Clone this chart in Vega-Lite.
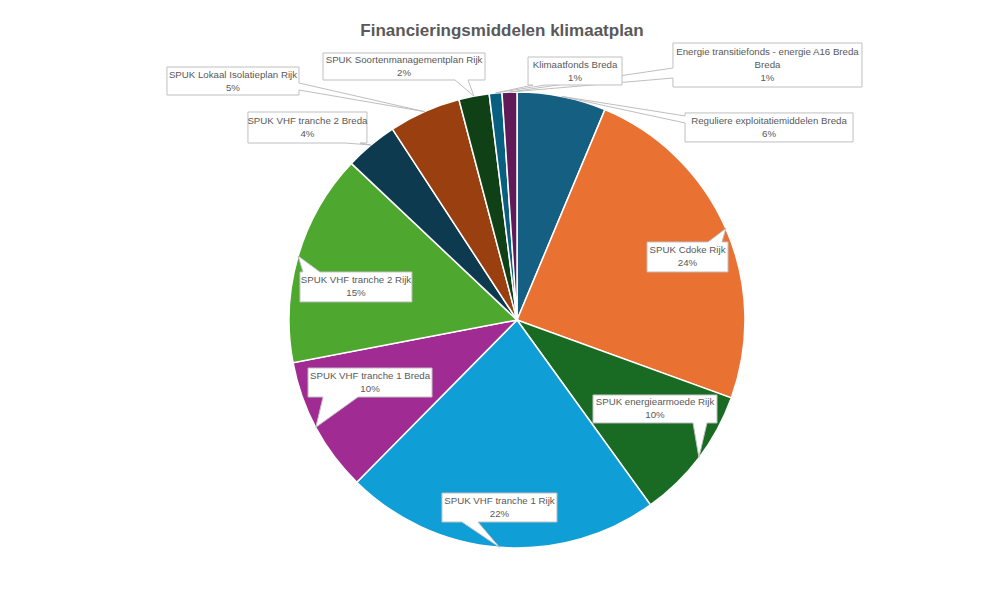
{
  "$schema": "https://vega.github.io/schema/vega-lite/v6.json",
  "autosize": "none",
  "width": 934,
  "height": 538,
  "padding": {"left": 50, "top": 51, "right": 0, "bottom": 0},
  "background": "white",
  "title": {"text": "Financieringsmiddelen klimaatplan", "fontSize": 17, "font": "Liberation Sans", "fontWeight": "bold", "color": "#595959", "dx": -15, "offset": 1},
  "config": {"view": {"stroke": null}},
  "data": {"values": [
    {"category": "Reguliere exploitatiemiddelen Breda", "value": 6.3},
    {"category": "SPUK Cdoke Rijk", "value": 24.25},
    {"category": "SPUK energiearmoede Rijk", "value": 9.5},
    {"category": "SPUK VHF tranche 1  Rijk", "value": 22.35},
    {"category": "SPUK VHF tranche 1  Breda", "value": 9.6},
    {"category": "SPUK VHF tranche 2 Rijk", "value": 15.05},
    {"category": "SPUK VHF tranche 2 Breda", "value": 3.75},
    {"category": "SPUK Lokaal Isolatieplan Rijk", "value": 5.1},
    {"category": "SPUK Soortenmanagementplan Rijk", "value": 2.15},
    {"category": "Klimaatfonds Breda", "value": 0.9},
    {"category": "Energie transitiefonds - energie A16 Breda Breda", "value": 1.05}
  ]},
  "transform": [
    {"window": [{"op": "sum", "field": "value", "as": "cum"}], "frame": [null, 0]},
    {"calculate": "datum.cum - datum.value", "as": "start"},
    {"calculate": "(datum.cum - datum.value / 2) / 100 * 2 * PI", "as": "mid"},
    {"calculate": "sin(datum.mid)", "as": "ux"},
    {"calculate": "cos(datum.mid)", "as": "uy"},
    {"calculate": "length(datum.category) > 45 ? [substring(datum.category, 0, 42), substring(datum.category, 43), format(datum.value / 100, '.0%')] : [datum.category, format(datum.value / 100, '.0%')]", "as": "lines"}
  ],
  "layer": [
    {
      "mark": {"type": "arc", "radius": 228, "stroke": "white", "strokeWidth": 1.5},
      "encoding": {
        "theta": {"field": "start", "type": "quantitative", "scale": {"domain": [0, 100]}},
        "theta2": {"field": "cum"},
        "color": {"field": "category", "type": "nominal", "legend": null,
          "scale": {
            "domain": ["Reguliere exploitatiemiddelen Breda", "SPUK Cdoke Rijk", "SPUK energiearmoede Rijk", "SPUK VHF tranche 1  Rijk", "SPUK VHF tranche 1  Breda", "SPUK VHF tranche 2 Rijk", "SPUK VHF tranche 2 Breda", "SPUK Lokaal Isolatieplan Rijk", "SPUK Soortenmanagementplan Rijk", "Klimaatfonds Breda", "Energie transitiefonds - energie A16 Breda Breda"],
            "range": ["#156082", "#E97132", "#196B24", "#0F9ED5", "#A02B93", "#4EA72E", "#0D3A4E", "#9A4010", "#0F4016", "#095F80", "#601A58"]
          }
        }
      }
    },
    {
      "encoding": {
        "x": {"field": "ux", "type": "quantitative", "scale": {"domain": [-2.04825, 2.04825], "nice": false, "zero": false}, "axis": null},
        "y": {"field": "uy", "type": "quantitative", "scale": {"domain": [-1.17982, 1.17982], "nice": false, "zero": false}, "axis": null},
        "text": {"field": "lines"}
      },
      "layer": [
        {
          "transform": [{"filter": {"field": "category", "equal": "Energie transitiefonds - energie A16 Breda Breda"}}],
          "layer": [
            {"mark": {"type": "point", "shape": "M1.635,-0.491H3.525V-0.051H1.635V-0.141L0,0L1.635,-0.241Z", "size": 40000, "filled": true, "fill": "white", "stroke": "#bfbfbf", "strokeWidth": 1, "opacity": 1}},
            {"mark": {"type": "text", "dx": 258, "dy": -40.1, "fontSize": 9.7, "font": "Liberation Sans", "fill": "#595959", "lineHeight": 13, "baseline": "middle", "align": "center"}}
          ]
        },
        {
          "transform": [{"filter": {"field": "category", "equal": "Klimaatfonds Breda"}}],
          "layer": [
            {"mark": {"type": "point", "shape": "M0.325,-0.36H1.265V-0.08H0.495L0,0L0.375,-0.08H0.325Z", "size": 40000, "filled": true, "fill": "white", "stroke": "#bfbfbf", "strokeWidth": 1, "opacity": 1}},
            {"mark": {"type": "text", "dx": 79.5, "dy": -28.5, "fontSize": 9.7, "font": "Liberation Sans", "fill": "#595959", "lineHeight": 13, "baseline": "middle", "align": "center"}}
          ]
        },
        {
          "transform": [{"filter": {"field": "category", "equal": "SPUK Soortenmanagementplan Rijk"}}],
          "layer": [
            {"mark": {"type": "point", "shape": "M-1.509,-0.431H0.111V-0.161H-0.059L0,0L-0.189,-0.161H-1.509Z", "size": 40000, "filled": true, "fill": "white", "stroke": "#bfbfbf", "strokeWidth": 1, "opacity": 1}},
            {"mark": {"type": "text", "dx": -69.9, "dy": -36.1, "fontSize": 9.7, "font": "Liberation Sans", "fill": "#595959", "lineHeight": 13, "baseline": "middle", "align": "center"}}
          ]
        },
        {
          "transform": [{"filter": {"field": "category", "equal": "SPUK Lokaal Isolatieplan Rijk"}}],
          "layer": [
            {"mark": {"type": "point", "shape": "M-2.575,-0.446H-1.255V-0.286L0,0L-1.255,-0.216V-0.166H-2.575Z", "size": 40000, "filled": true, "fill": "white", "stroke": "#bfbfbf", "strokeWidth": 1, "opacity": 1}},
            {"mark": {"type": "text", "dx": -191.5, "dy": -37.1, "fontSize": 9.7, "font": "Liberation Sans", "fill": "#595959", "lineHeight": 13, "baseline": "middle", "align": "center"}}
          ]
        },
        {
          "transform": [{"filter": {"field": "category", "equal": "SPUK VHF tranche 2 Breda"}}],
          "layer": [
            {"mark": {"type": "point", "shape": "M-1.229,-0.33H-0.039V-0.02H-0.109L0,0L-0.259,-0.02H-1.229Z", "size": 40000, "filled": true, "fill": "white", "stroke": "#bfbfbf", "strokeWidth": 1, "opacity": 1}},
            {"mark": {"type": "text", "dx": -63.4, "dy": -24, "fontSize": 9.7, "font": "Liberation Sans", "fill": "#595959", "lineHeight": 13, "baseline": "middle", "align": "center"}}
          ]
        },
        {
          "transform": [{"filter": {"field": "category", "equal": "Reguliere exploitatiemiddelen Breda"}}],
          "layer": [
            {"mark": {"type": "point", "shape": "M1.232,0.165H2.912V0.455H1.232V0.265L0,0L1.232,0.195Z", "size": 40000, "filled": true, "fill": "white", "stroke": "#bfbfbf", "strokeWidth": 1, "opacity": 1}},
            {"mark": {"type": "text", "dx": 207.2, "dy": 24.5, "fontSize": 9.7, "font": "Liberation Sans", "fill": "#595959", "lineHeight": 13, "baseline": "middle", "align": "center"}}
          ]
        },
        {
          "transform": [{"filter": {"field": "category", "equal": "SPUK Cdoke Rijk"}}],
          "layer": [
            {"mark": {"type": "point", "shape": "M-0.788,0.135H-0.178L0,0L-0.038,0.135H0.022V0.435H-0.788Z", "size": 40000, "filled": true, "fill": "white", "stroke": "#bfbfbf", "strokeWidth": 1, "opacity": 1}},
            {"mark": {"type": "text", "dx": -38.3, "dy": 22, "fontSize": 9.7, "font": "Liberation Sans", "fill": "#595959", "lineHeight": 13, "baseline": "middle", "align": "center"}}
          ]
        },
        {
          "transform": [{"filter": {"field": "category", "equal": "SPUK energiearmoede Rijk"}}],
          "layer": [
            {"mark": {"type": "point", "shape": "M-1.059,-0.625H0.181V-0.345H0.081L0,0L-0.059,-0.345H-1.059Z", "size": 40000, "filled": true, "fill": "white", "stroke": "#bfbfbf", "strokeWidth": 1, "opacity": 1}},
            {"mark": {"type": "text", "dx": -43.9, "dy": -55, "fontSize": 9.7, "font": "Liberation Sans", "fill": "#595959", "lineHeight": 13, "baseline": "middle", "align": "center"}}
          ]
        },
        {
          "transform": [{"filter": {"field": "category", "equal": "SPUK VHF tranche 1  Rijk"}}],
          "layer": [
            {"mark": {"type": "point", "shape": "M-0.575,-0.543H0.575V-0.253H-0.215L0,0L-0.375,-0.253H-0.575Z", "size": 40000, "filled": true, "fill": "white", "stroke": "#bfbfbf", "strokeWidth": 1, "opacity": 1}},
            {"mark": {"type": "text", "dx": 0, "dy": -46.3, "fontSize": 9.7, "font": "Liberation Sans", "fill": "#595959", "lineHeight": 13, "baseline": "middle", "align": "center"}}
          ]
        },
        {
          "transform": [{"filter": {"field": "category", "equal": "SPUK VHF tranche 1  Breda"}}],
          "layer": [
            {"mark": {"type": "point", "shape": "M-0.078,-0.593H1.162V-0.303H0.422L0,0L0.072,-0.303H-0.078Z", "size": 40000, "filled": true, "fill": "white", "stroke": "#bfbfbf", "strokeWidth": 1, "opacity": 1}},
            {"mark": {"type": "text", "dx": 54.2, "dy": -51.3, "fontSize": 9.7, "font": "Liberation Sans", "fill": "#595959", "lineHeight": 13, "baseline": "middle", "align": "center"}}
          ]
        },
        {
          "transform": [{"filter": {"field": "category", "equal": "SPUK VHF tranche 2 Rijk"}}],
          "layer": [
            {"mark": {"type": "point", "shape": "M0.018,0.159H0.048L0,0L0.218,0.159H1.138V0.459H0.018Z", "size": 40000, "filled": true, "fill": "white", "stroke": "#bfbfbf", "strokeWidth": 1, "opacity": 1}},
            {"mark": {"type": "text", "dx": 57.8, "dy": 24.4, "fontSize": 9.7, "font": "Liberation Sans", "fill": "#595959", "lineHeight": 13, "baseline": "middle", "align": "center"}}
          ]
        }
      ]
    }
  ]
}
